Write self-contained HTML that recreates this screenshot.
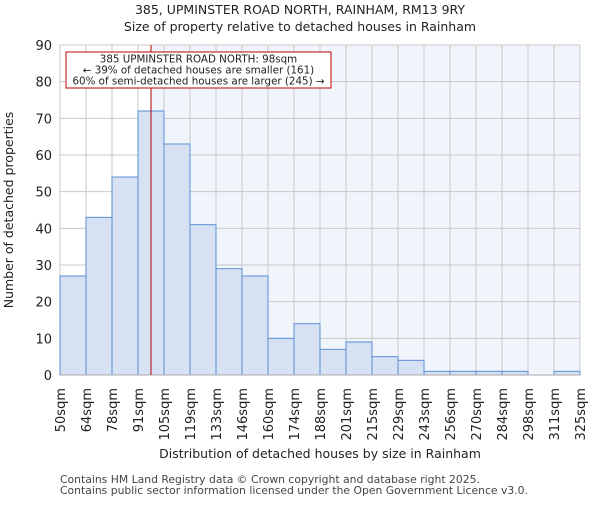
<!DOCTYPE html>
<html><head><meta charset="utf-8"><style>body{margin:0;background:#fff}text{font-family:"DejaVu Sans","Liberation Sans",sans-serif}</style></head>
<body>
<svg id="c" width="600" height="500" xmlns="http://www.w3.org/2000/svg">
<text x="300" y="14" text-anchor="middle" font-size="12.5" fill="#222">385, UPMINSTER ROAD NORTH, RAINHAM, RM13 9RY</text>
<text x="300" y="31" text-anchor="middle" font-size="12.5" fill="#222">Size of property relative to detached houses in Rainham</text>
<g id="plot"></g>
<text x="320" y="458" text-anchor="middle" font-size="12.5" fill="#222">Distribution of detached houses by size in Rainham</text>
<text transform="translate(13,210) rotate(-90)" text-anchor="middle" font-size="12.5" fill="#222">Number of detached properties</text>
<text x="60" y="483" font-size="10.8" fill="#444">Contains HM Land Registry data © Crown copyright and database right 2025.</text>
<text x="60" y="494" font-size="10.8" fill="#444">Contains public sector information licensed under the Open Government Licence v3.0.</text>
</svg>
<script>
const tickLabels=["50sqm","64sqm","78sqm","91sqm","105sqm","119sqm","133sqm","146sqm","160sqm","174sqm","188sqm","201sqm","215sqm","229sqm","243sqm","256sqm","270sqm","284sqm","298sqm","311sqm","325sqm"];
const binEdges=[50,64,78,91,105,119,133,146,160,174,188,201,215,229,243,256,270,284,298,311,325];
const counts=[27,43,54,72,63,41,29,27,10,14,7,9,5,4,1,1,1,1,0,1];
const yTicks=[0,10,20,30,40,50,60,70,80,90];
const markerValue=98;
const annotation=["385 UPMINSTER ROAD NORTH: 98sqm","← 39% of detached houses are smaller (161)","60% of semi-detached houses are larger (245) →"];
const NS="http://www.w3.org/2000/svg",g=document.getElementById('plot');
const L=60,R=580,T=45,B=375,n=counts.length,bw=(R-L)/n;
const y=v=>B-(v/90)*(B-T);
const xi=i=>L+i*bw;
const xv=v=>{for(let i=0;i<binEdges.length-1;i++){if(v<=binEdges[i+1])return xi(i)+(v-binEdges[i])/(binEdges[i+1]-binEdges[i])*bw;}return R;};
function mk(t,a,p){const e=document.createElementNS(NS,t);for(const k in a)e.setAttribute(k,a[k]);(p||g).appendChild(e);return e;}
const mx=xv(markerValue);
let e=mk('rect',{x:L,y:T,width:mx-L,height:B-T,fill:'#ffffff'});

e=mk('rect',{x:mx,y:T,width:R-mx,height:B-T,fill:'#f0f4fb'});

yTicks.forEach(v=>{let l=mk('line',{x1:L,x2:R,y1:y(v),y2:y(v),stroke:'#c8c8c8'});

let t=mk('text',{x:L-8,y:y(v)+5,'text-anchor':'end','font-size':'13',fill:'#222'});t.textContent=v;
});
for(let i=0;i<=n;i++){let l=mk('line',{x1:xi(i),x2:xi(i),y1:T,y2:B,stroke:'#c8c8c8'});
}
counts.forEach((c,i)=>{let r=mk('rect',{x:xi(i),y:y(c),width:bw,height:B-y(c),fill:'#d6e2f3',stroke:'#5b8fd6','stroke-width':1});
});
e=mk('line',{x1:L,x2:R,y1:B,y2:B,stroke:'#aaa'});

tickLabels.forEach((s,i)=>{let t=mk('text',{transform:`translate(${xi(i)+5},388) rotate(-90)`,'text-anchor':'end','font-size':'13',fill:'#222'});t.textContent=s;
});
e=mk('line',{x1:mx,x2:mx,y1:T,y2:B,stroke:'#b00000','stroke-width':1});

e=mk('rect',{x:66,y:52,width:265,height:36,fill:'#fff',stroke:'#c00000'});

annotation.forEach((s,i)=>{let t=mk('text',{x:198.5,y:62.5+i*11,'text-anchor':'middle','font-size':'10.3',fill:'#222'});t.textContent=s;
});
</script>
</body></html>
